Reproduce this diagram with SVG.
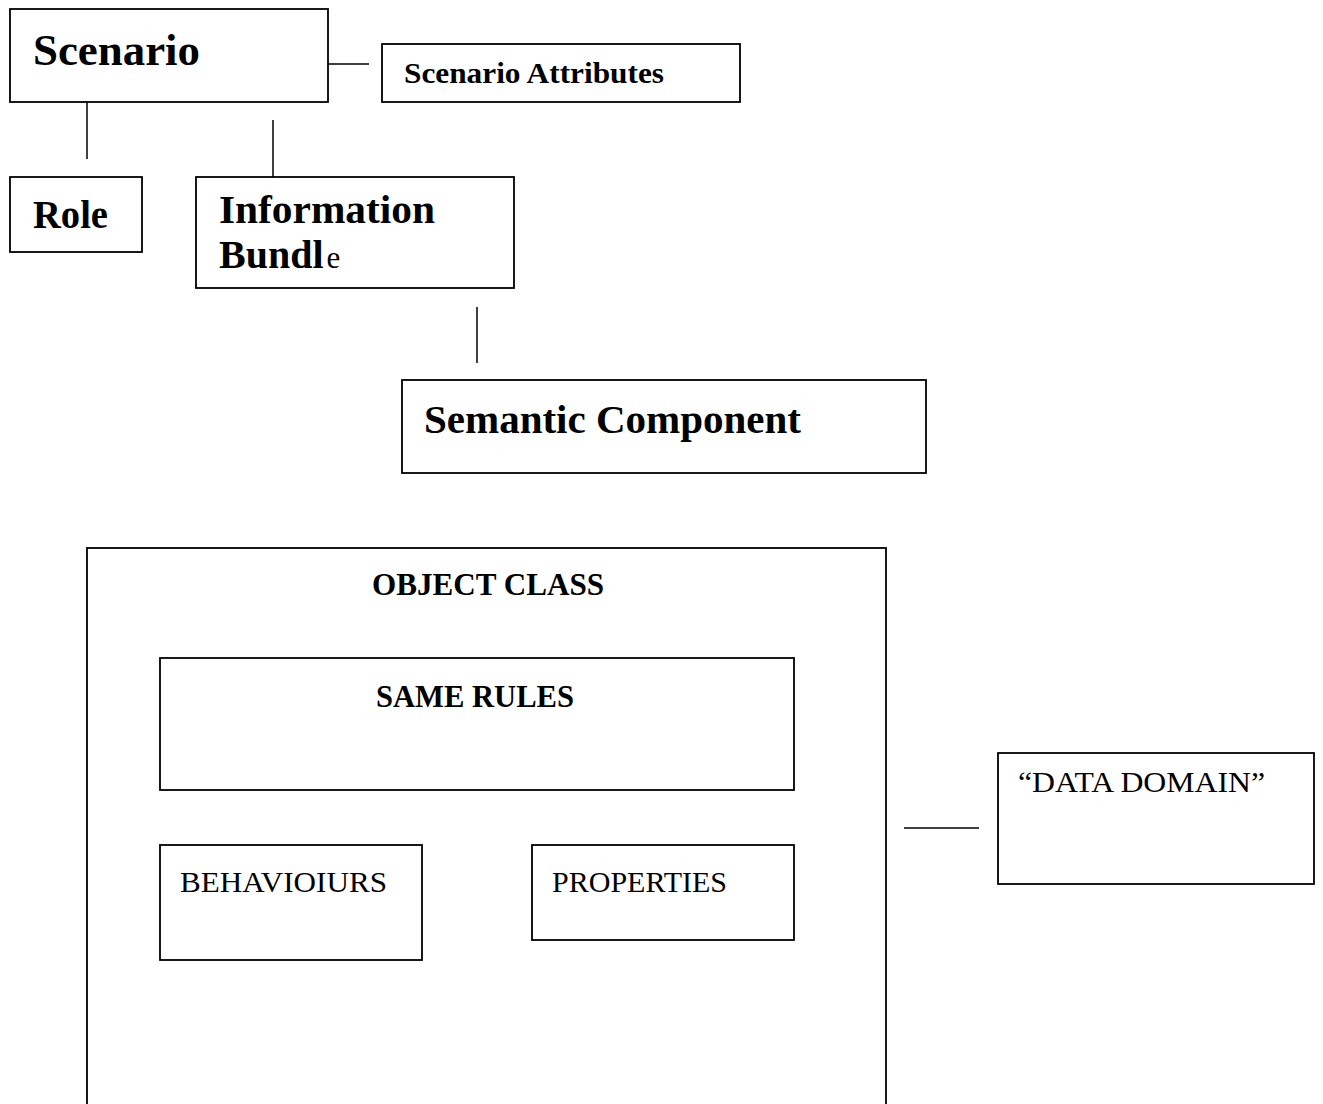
<svg xmlns="http://www.w3.org/2000/svg" width="1323" height="1104" viewBox="0 0 1323 1104">
<style>
.box{fill:#fff;stroke:#000;stroke-width:1.8}
.con line{stroke:#000;stroke-width:1.5}
text{font-family:"Liberation Serif","Times New Roman",serif;fill:#000}
.b{font-weight:bold}
</style>
<rect width="1323" height="1104" fill="#fff"/>
<g id="connectors" class="con">
<line x1="328" y1="64" x2="369" y2="64"/>
<line x1="87" y1="99" x2="87" y2="159"/>
<line x1="273" y1="120" x2="273" y2="177"/>
<line x1="477" y1="307" x2="477" y2="363"/>
<line x1="904" y1="828" x2="979" y2="828"/>
</g>
<g id="scenario">
<rect class="box" x="10" y="9" width="318" height="93"/>
<text class="b" x="33" y="65" font-size="45" textLength="167" lengthAdjust="spacingAndGlyphs">Scenario</text>
</g>
<g id="scenario-attributes">
<rect class="box" x="382" y="44" width="358" height="58"/>
<text class="b" x="404" y="83" font-size="29" textLength="260" lengthAdjust="spacingAndGlyphs">Scenario Attributes</text>
</g>
<g id="role">
<rect class="box" x="10" y="177" width="132" height="75"/>
<text class="b" x="33" y="228" font-size="39" textLength="75" lengthAdjust="spacingAndGlyphs">Role</text>
</g>
<g id="information-bundle">
<rect class="box" x="196" y="177" width="318" height="111"/>
<text class="b" x="219" y="223" font-size="40" textLength="216" lengthAdjust="spacingAndGlyphs">Information</text>
<text x="219" y="268" font-size="40"><tspan class="b">Bundl</tspan><tspan font-size="31" dx="3">e</tspan></text>
</g>
<g id="semantic-component">
<rect class="box" x="402" y="380" width="524" height="93"/>
<text class="b" x="424" y="433" font-size="40" textLength="377" lengthAdjust="spacingAndGlyphs">Semantic Component</text>
</g>
<g id="object-class">
<rect class="box" x="87" y="548" width="799" height="570"/>
<text class="b" x="372" y="595" font-size="31" textLength="232" lengthAdjust="spacingAndGlyphs">OBJECT CLASS</text>
</g>
<g id="same-rules">
<rect class="box" x="160" y="658" width="634" height="132"/>
<text class="b" x="376" y="707" font-size="31" textLength="198" lengthAdjust="spacingAndGlyphs">SAME RULES</text>
</g>
<g id="behaviours">
<rect class="box" x="160" y="845" width="262" height="115"/>
<text x="180" y="892" font-size="29" textLength="207" lengthAdjust="spacingAndGlyphs">BEHAVIOIURS</text>
</g>
<g id="properties">
<rect class="box" x="532" y="845" width="262" height="95"/>
<text x="552" y="892" font-size="29" textLength="175" lengthAdjust="spacingAndGlyphs">PROPERTIES</text>
</g>
<g id="data-domain">
<rect class="box" x="998" y="753" width="316" height="131"/>
<text x="1018" y="792" font-size="30" textLength="247" lengthAdjust="spacingAndGlyphs">“DATA DOMAIN”</text>
</g>
</svg>
